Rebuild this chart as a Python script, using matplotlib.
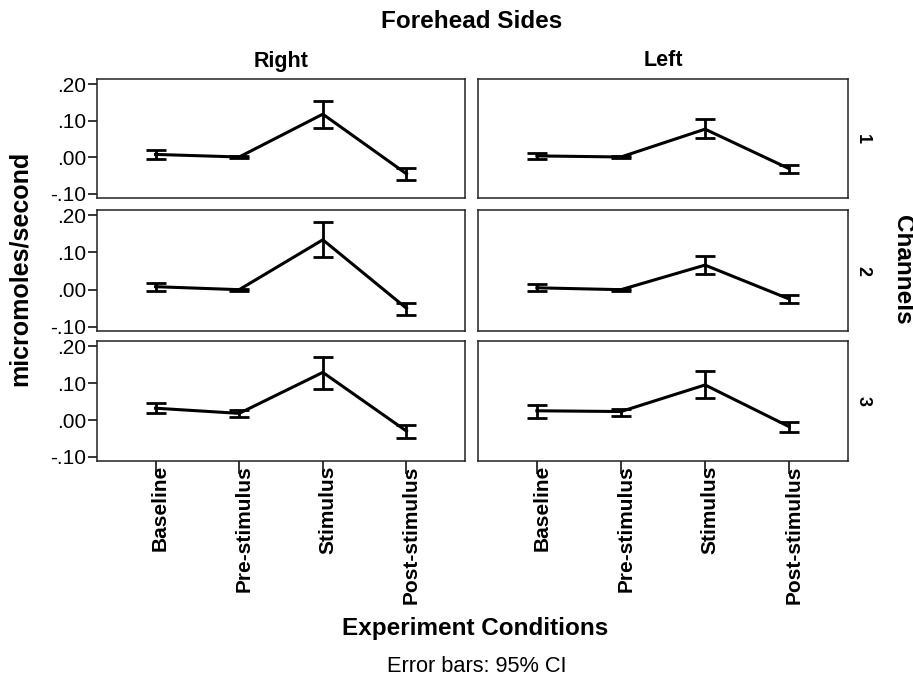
import matplotlib
matplotlib.use("Agg")
import matplotlib.pyplot as plt
from matplotlib.ticker import FuncFormatter
from matplotlib.transforms import ScaledTranslation

plt.rcParams["font.family"] = ["Liberation Sans", "DejaVu Sans"]

conditions = ["Baseline", "Pre-stimulus", "Stimulus", "Post-stimulus"]
sides = ["Right", "Left"]
channels = ["1", "2", "3"]

# mean and 95% CI bounds, one row per channel
right_mean = [[0.008, 0.001, 0.118, -0.045],
              [0.008, 0.000, 0.134, -0.050],
              [0.032, 0.018, 0.129, -0.030]]
right_lo = [[-0.004, -0.002, 0.080, -0.061],
            [-0.003, -0.003, 0.087, -0.069],
            [0.020, 0.007, 0.084, -0.048]]
right_hi = [[0.020, 0.003, 0.155, -0.029],
            [0.018, 0.003, 0.182, -0.035],
            [0.045, 0.026, 0.172, -0.014]]

left_mean = [[0.004, 0.001, 0.077, -0.031],
             [0.005, 0.000, 0.066, -0.025],
             [0.025, 0.023, 0.095, -0.018]]
left_lo = [[-0.004, -0.002, 0.052, -0.044],
           [-0.003, -0.003, 0.041, -0.035],
           [0.006, 0.011, 0.059, -0.032]]
left_hi = [[0.013, 0.003, 0.105, -0.021],
           [0.014, 0.003, 0.090, -0.014],
           [0.041, 0.031, 0.132, -0.005]]

data = {"Right": (right_mean, right_lo, right_hi),
        "Left": (left_mean, left_lo, left_hi)}

W, H = 913, 681
fig = plt.figure(figsize=(W / 100, H / 100), dpi=100)

col_x = [(97, 465), (478, 848)]
row_y = [(79, 198), (210, 331), (341, 461)]


def fmt(v, pos):
    s = f"{v:.2f}"
    return s.replace("0.", ".", 1)


x = list(range(len(conditions)))
for c, side in enumerate(sides):
    means, los, his = data[side]
    for r in range(3):
        x0, x1 = col_x[c]
        y0, y1 = row_y[r]
        ax = fig.add_axes([x0 / W, 1 - y1 / H, (x1 - x0) / W, (y1 - y0) / H])
        m = means[r]
        lo = [m[i] - los[r][i] for i in x]
        hi = [his[r][i] - m[i] for i in x]
        ax.errorbar(x, m, yerr=[lo, hi], color="black", lw=2.2,
                    elinewidth=2, capsize=7, capthick=2)
        ax.set_xlim(-0.7, 3.7)
        ax.set_ylim(-0.111, 0.214)
        ax.set_yticks([-0.1, 0.0, 0.1, 0.2])
        for sp in ax.spines.values():
            sp.set_color("#222222")
            sp.set_linewidth(1.1)
        if c == 0:
            ax.yaxis.set_major_formatter(FuncFormatter(fmt))
            ax.tick_params(axis="y", direction="out", length=6.5, width=1.1,
                           labelsize=15, pad=1)
        else:
            ax.tick_params(axis="y", left=False, labelleft=False)
        if r == 2:
            ax.set_xticks(x)
            ax.set_xticklabels(conditions, rotation=90, fontweight="bold",
                               fontsize=15)
            ax.tick_params(axis="x", direction="out", length=9, width=1.1,
                           pad=-6)
            shift = ScaledTranslation(5 / 100, 0, fig.dpi_scale_trans)
            for lab in ax.get_xticklabels():
                lab.set_transform(lab.get_transform() + shift)
        else:
            ax.set_xticks([])
        if r == 0:
            ax.set_title(side, fontweight="bold", fontsize=15.5, pad=9)
        if c == 1:
            ax.text(1.04, 0.5, channels[r], transform=ax.transAxes,
                    rotation=-90, ha="center", va="center",
                    fontweight="bold", fontsize=13)

fig.text(472 / W, 1 - 21 / H, "Forehead Sides", ha="center", va="center",
         fontweight="bold", fontsize=17.5)
fig.text(902 / W, 1 - 270 / H, "Channels", ha="center", va="center",
         rotation=-90, fontweight="bold", fontsize=17.5)
fig.text(20 / W, 1 - 268 / H, "micromoles/second", ha="center", va="center",
         rotation=90, fontweight="bold", fontsize=18)
fig.text(475 / W, 1 - 629 / H, "Experiment Conditions", ha="center",
         va="center", fontweight="bold", fontsize=17.5)
fig.text(477 / W, 1 - 667 / H, "Error bars: 95% CI", ha="center",
         va="center", fontsize=15.7)

fig.savefig("out.png", dpi=100)
